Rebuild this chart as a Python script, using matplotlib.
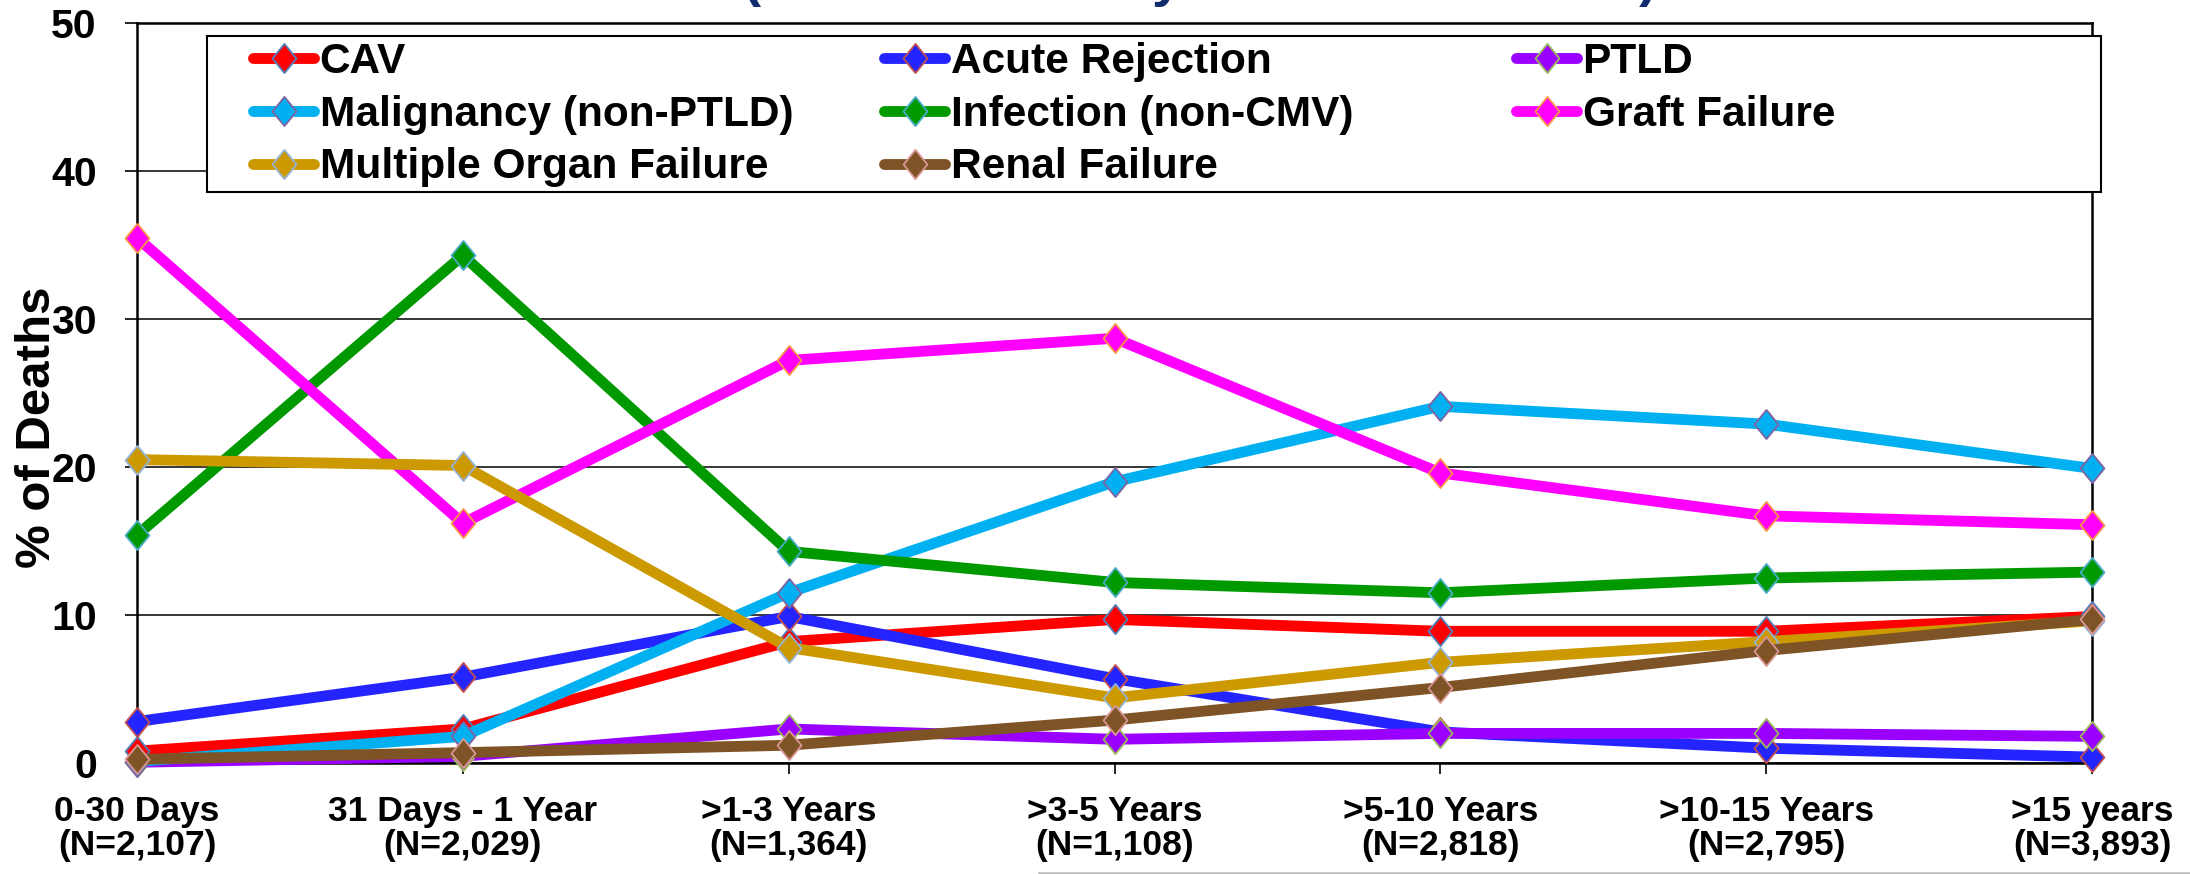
import matplotlib
matplotlib.use('Agg')
import matplotlib.pyplot as plt
from matplotlib.patches import Rectangle
from matplotlib.lines import Line2D
from matplotlib.path import Path

categories = ['0-30 Days\n(N=2,107)', '31 Days - 1 Year\n(N=2,029)', '>1-3 Years\n(N=1,364)',
              '>3-5 Years\n(N=1,108)', '>5-10 Years\n(N=2,818)', '>10-15 Years\n(N=2,795)',
              '>15 years\n(N=3,893)']

cav = [0.8, 2.3, 8.2, 9.7, 8.9, 8.9, 9.9]
acute_rejection = [2.8, 5.8, 9.9, 5.7, 2.1, 1.0, 0.4]
ptld = [0.05, 0.45, 2.3, 1.6, 2.0, 2.0, 1.8]
malignancy = [0.1, 1.8, 11.5, 19.0, 24.1, 22.9, 19.9]
infection = [15.4, 34.3, 14.3, 12.2, 11.5, 12.5, 12.9]
graft_failure = [35.5, 16.2, 27.2, 28.7, 19.6, 16.7, 16.1]
multiple_organ_failure = [20.5, 20.1, 7.8, 4.4, 6.8, 8.2, 9.6]
renal_failure = [0.25, 0.7, 1.2, 2.9, 5.1, 7.6, 9.7]

series_names = ['CAV', 'Acute Rejection', 'PTLD', 'Malignancy (non-PTLD)', 'Infection (non-CMV)',
                'Graft Failure', 'Multiple Organ Failure', 'Renal Failure']
series_values = [cav, acute_rejection, ptld, malignancy, infection, graft_failure,
                 multiple_organ_failure, renal_failure]
line_colors = ['#FF0000', '#2424FF', '#9900FF', '#00B0F0', '#009900', '#FF00FF', '#CC9900', '#7E5426']
edge_colors = ['#4F81BD', '#C0504D', '#9BBB59', '#8064A2', '#4BACC6', '#F79646', '#95B3D7', '#D99694']

title_text = '(Deaths: January 2000 \u2013 June 2013)'
y_label = '% of Deaths'

plt.rcParams['font.family'] = ['Liberation Sans', 'DejaVu Sans']
plt.rcParams['font.weight'] = 'bold'

W, H = 2190, 874
fig = plt.figure(figsize=(W / 100, H / 100), dpi=100)
ax_l, ax_r, ax_t, ax_b = 137, 2092, 23, 763
ax = fig.add_axes([ax_l / W, 1 - ax_b / H, (ax_r - ax_l) / W, (ax_b - ax_t) / H])

diamond = Path([(0, 1), (0.82, 0), (0, -1), (-0.82, 0), (0, 1)],
               [Path.MOVETO, Path.LINETO, Path.LINETO, Path.LINETO, Path.CLOSEPOLY])

x = list(range(len(categories)))
handles = []
for name, vals, lc, ec in zip(series_names, series_values, line_colors, edge_colors):
    ln, = ax.plot(x, vals, color=lc, lw=7.8, marker=diamond, markersize=21,
                  markerfacecolor=lc, markeredgecolor=ec, markeredgewidth=1.3,
                  solid_capstyle='round', solid_joinstyle='round', clip_on=False,
                  label=name, zorder=3)
    handles.append(ln)

ax.set_xlim(0, len(categories) - 1)
ax.set_ylim(0, 50)
ax.set_yticks([0, 10, 20, 30, 40, 50])
ax.set_xticks(x)
ax.set_xticklabels(categories, fontsize=25.5, fontweight='bold', linespacing=1.05)
ax.tick_params(axis='y', labelsize=29.5, length=9, width=1.2, pad=20, direction='out')
ax.tick_params(axis='x', length=8, width=1.2, pad=15, direction='out')
for lab in ax.get_yticklabels():
    lab.set_fontweight('bold')

ax.yaxis.grid(True, color='black', lw=1.1)
ax.set_axisbelow(True)
for s in ax.spines.values():
    s.set_linewidth(1.8)
    s.set_color('black')

# y label
fig.text(50 / W, 1 - 427 / H, y_label, rotation=90, rotation_mode='anchor',
         ha='center', va='baseline', fontsize=35.5, fontweight='bold')

# title (mostly above the canvas, as in the reference)
fig.text(1200 / W, 1 + 4 / H, title_text, ha='center', va='baseline',
         fontsize=39, fontweight='bold', color='#102C6E')

# legend frame
def to_ax(px, py):
    return ((px - ax_l) / (ax_r - ax_l), (ax_b - py) / (ax_b - ax_t))

x0, y0 = to_ax(207, 192)
x1, y1 = to_ax(2101, 36)
frame = Rectangle((x0, y0), x1 - x0, y1 - y0, transform=ax.transAxes, facecolor='white',
                  edgecolor='black', lw=1.5, clip_on=False, zorder=5)
ax.add_patch(frame)

# legend: three equal-width columns filled row-wise
columns = [[0, 3, 6], [1, 4, 7], [2, 5]]
col_x = [253, 884, 1516]
for k, (idx, cx) in enumerate(zip(columns, col_x)):
    lx, ly = to_ax(cx, 42)
    leg = ax.legend(handles=[handles[i] for i in idx], ncol=1, loc='upper left',
                    bbox_to_anchor=(lx, ly), frameon=False, borderpad=0, borderaxespad=0,
                    handlelength=1.45, handletextpad=0.12,
                    labelspacing=0.3, prop={'weight': 'bold', 'size': 30.5})
    leg.set_zorder(6)
    if k < len(columns) - 1:
        ax.add_artist(leg)

# gray line at bottom edge
fig.add_artist(Line2D([1039 / W, 1.0], [1.5 / H, 1.5 / H], transform=fig.transFigure,
                      color='#BBBBBB', lw=1.8))

fig.savefig('out.png', dpi=100)
